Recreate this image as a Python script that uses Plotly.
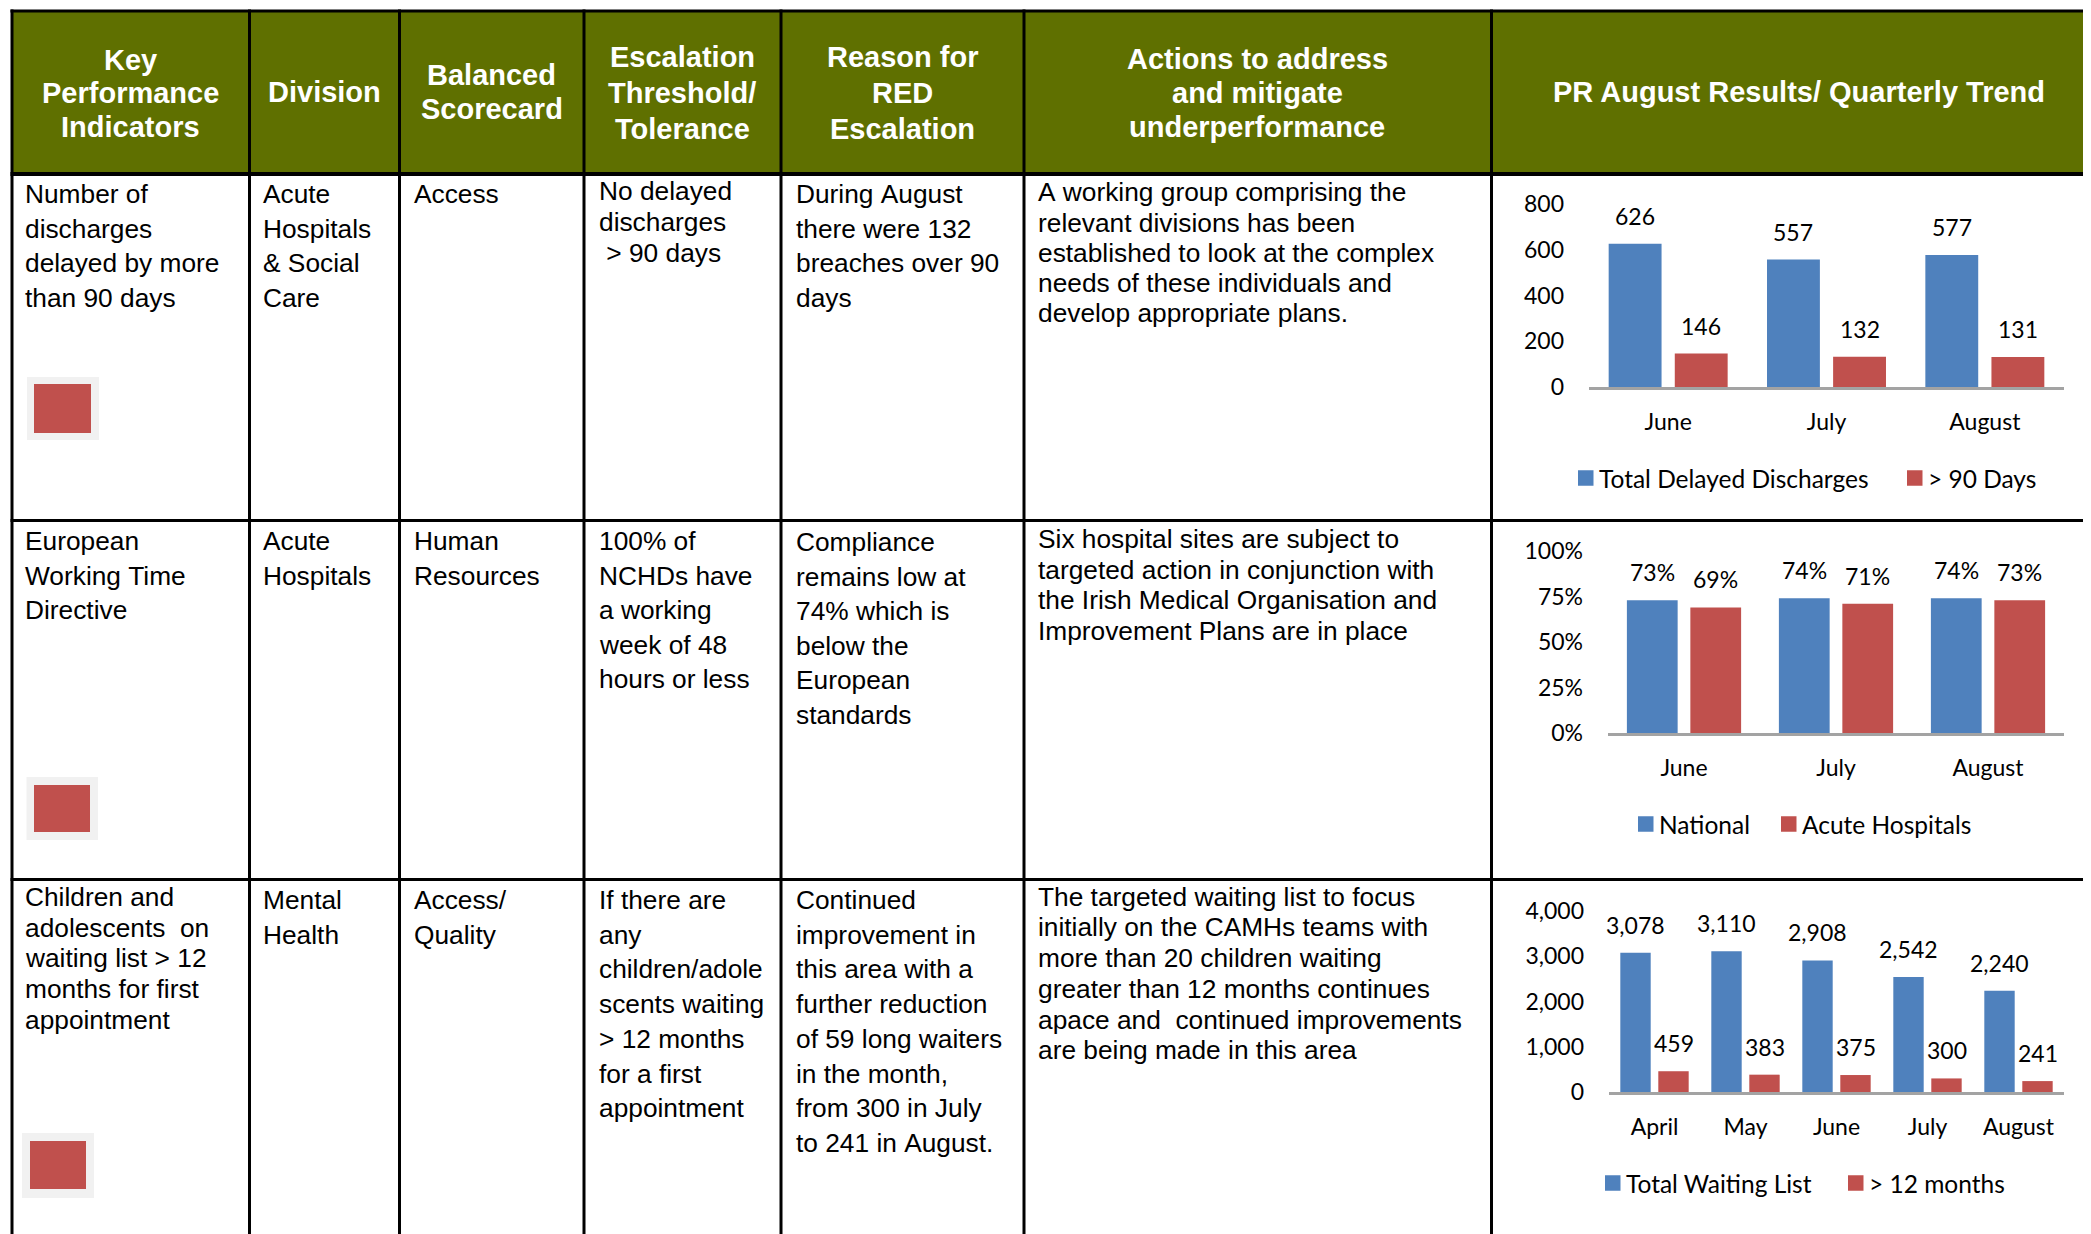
import plotly.graph_objects as go

W, H = 2091, 1234
# the page body adds an 8px margin around the figure; compensate for it
OFF = 8


def px(x):
    return (x - OFF) / W


def py(y):
    return 1 - (y - OFF) / H


# ---------------- data ----------------
months_1 = ["June", "July", "August"]
delayed_total = [626, 557, 577]
delayed_90 = [146, 132, 131]
series_1 = ["Total Delayed Discharges", "> 90 Days"]
ticks_1 = [0, 200, 400, 600, 800]

months_2 = ["June", "July", "August"]
ewtd_national = [0.73, 0.74, 0.74]
ewtd_acute = [0.69, 0.71, 0.73]
series_2 = ["National", "Acute Hospitals"]
ticks_2 = [0, 0.25, 0.5, 0.75, 1.0]

months_3 = ["April", "May", "June", "July", "August"]
camhs_total = [3078, 3110, 2908, 2542, 2240]
camhs_12m = [459, 383, 375, 300, 241]
series_3 = ["Total Waiting List", "> 12 months"]
ticks_3 = [0, 1000, 2000, 3000, 4000]

header_titles = [
    ["Key", "Performance", "Indicators"],
    ["Division"],
    ["Balanced", "Scorecard"],
    ["Escalation", "Threshold/", "Tolerance"],
    ["Reason for", "RED", "Escalation"],
    ["Actions to address", "and mitigate", "underperformance"],
    ["PR August Results/ Quarterly Trend"],
]

row1_cells = [
    ["Number of", "discharges", "delayed by more", "than 90 days"],
    ["Acute", "Hospitals", "& Social", "Care"],
    ["Access"],
    ["No delayed", "discharges", " > 90 days"],
    ["During August", "there were 132", "breaches over 90", "days"],
    ["A working group comprising the", "relevant divisions has been",
     "established to look at the complex", "needs of these individuals and",
     "develop appropriate plans."],
]
row2_cells = [
    ["European", "Working Time", "Directive"],
    ["Acute", "Hospitals"],
    ["Human", "Resources"],
    ["100% of", "NCHDs have", "a working", "week of 48", "hours or less"],
    ["Compliance", "remains low at", "74% which is", "below the", "European", "standards"],
    ["Six hospital sites are subject to", "targeted action in conjunction with",
     "the Irish Medical Organisation and", "Improvement Plans are in place"],
]
row3_cells = [
    ["Children and", "adolescents  on", "waiting list > 12", "months for first", "appointment"],
    ["Mental", "Health"],
    ["Access/", "Quality"],
    ["If there are", "any", "children/adole", "scents waiting", "> 12 months",
     "for a first", "appointment"],
    ["Continued", "improvement in", "this area with a", "further reduction",
     "of 59 long waiters", "in the month,", "from 300 in July", "to 241 in August."],
    ["The targeted waiting list to focus", "initially on the CAMHs teams with",
     "more than 20 children waiting", "greater than 12 months continues",
     "apace and  continued improvements", "are being made in this area"],
]

# ---------------- layout geometry ----------------
COL_X = [12, 249.5, 399.5, 584, 781, 1024, 1491.5]
ROW_Y = [11, 174, 520.5, 879.5]
TEXT_X = [23, 261, 412, 597, 794, 1036]
HEADER_CX = [130, 324, 491.5, 682, 902, 1257, 1799]
HEADER_Y = [(60, 33.5), (92, 0), (75, 34), (57.5, 36), (57.5, 35.5), (59, 34), (92, 0)]
ROW_LAYOUT = [
    [(194, 34.6), (194, 34.6), (194, 34.6), (191, 31), (194, 34.6), (192.4, 30.2)],
    [(541, 34.6), (541, 34.6), (541, 34.6), (541, 34.6), (542, 34.6), (539, 30.5)],
    [(897, 30.7), (900, 35), (900, 35), (900, 34.7), (900, 34.7), (896.7, 30.7)],
]
STATUS = [  # (gray box, red box) as x0, y0, x1, y1
    ((27, 377, 99, 440), (34, 384, 91, 433)),
    ((26.5, 777, 98, 840), (34, 785, 90, 832)),
    ((22, 1133, 94, 1198), (30, 1141, 86, 1189)),
]

GREEN = "#5F7000"
BLUE = "#4F81BD"
RED = "#C0504D"
TABLE_FONT = "Liberation Sans, Arial, sans-serif"
CHART_FONT = "Lato, Carlito, sans-serif"

fig = go.Figure()
shapes = []
annotations = []

# header background
shapes.append(dict(type="rect", xref="paper", yref="paper", x0=px(COL_X[0]), x1=px(W + 20),
                   y0=py(ROW_Y[1]), y1=py(ROW_Y[0]), fillcolor=GREEN, line=dict(width=0), layer="below"))

# header texts
for lines, cx, (y0, sp) in zip(header_titles, HEADER_CX, HEADER_Y):
    for i, t in enumerate(lines):
        annotations.append(dict(xref="paper", yref="paper", x=px(cx), y=py(y0 + i * sp),
                                xanchor="center", yanchor="middle", text="<b>%s</b>" % t,
                                showarrow=False, font=dict(family=TABLE_FONT, size=29, color="white")))

# body texts
for cells, lay in zip([row1_cells, row2_cells, row3_cells], ROW_LAYOUT):
    for lines, tx, (y0, sp) in zip(cells, TEXT_X, lay):
        for i, t in enumerate(lines):
            annotations.append(dict(xref="paper", yref="paper", x=px(tx), y=py(y0 + i * sp),
                                    xanchor="left", yanchor="middle", text=t.replace(" ", "&nbsp;"),
                                    showarrow=False, font=dict(family=TABLE_FONT, size=26.3, color="black")))

# status boxes
for gray, red in STATUS:
    shapes.append(dict(type="rect", xref="paper", yref="paper", x0=px(gray[0]), x1=px(gray[2]),
                       y0=py(gray[3]), y1=py(gray[1]), fillcolor="#F1F1F1", line=dict(width=0)))
    shapes.append(dict(type="rect", xref="paper", yref="paper", x0=px(red[0]), x1=px(red[2]),
                       y0=py(red[3]), y1=py(red[1]), fillcolor=RED, line=dict(width=0)))

# grid lines
for x in COL_X:
    shapes.append(dict(type="line", xref="paper", yref="paper", x0=px(x), x1=px(x),
                       y0=py(ROW_Y[0] - 1.5), y1=py(H + 20), line=dict(color="black", width=3)))
for j, y in enumerate(ROW_Y):
    shapes.append(dict(type="line", xref="paper", yref="paper", x0=px(COL_X[0] - 1.5), x1=px(W + 20),
                       y0=py(y), y1=py(y), line=dict(color="black", width=4 if j == 1 else 3)))

# ---------------- charts ----------------
BARGAP = 0.165
BARGROUPGAP = 0.2

charts = [
    dict(ax="", months=months_1, series=[delayed_total, delayed_90], names=series_1,
         ticks=ticks_1, fmt=",d", label=lambda v: f"{v:,}", x0=1589, x1=2064, ybot=387, ytop=204,
         leg_y=478, leg_x=[1578, 1907]),
    dict(ax="2", months=months_2, series=[ewtd_national, ewtd_acute], names=series_2,
         ticks=ticks_2, fmt=".0%", label=lambda v: f"{v:.0%}", x0=1608, x1=2064, ybot=733, ytop=551,
         leg_y=824, leg_x=[1638, 1781]),
    dict(ax="3", months=months_3, series=[camhs_total, camhs_12m], names=series_3,
         ticks=ticks_3, fmt=",d", label=lambda v: f"{v:,}", x0=1609, x1=2064, ybot=1092, ytop=911,
         leg_y=1183, leg_x=[1605, 1848]),
]

tick_font = dict(family=CHART_FONT, size=23, color="black")
legend_font = dict(family=CHART_FONT, size=24.5, color="black")
SQ = 15.5  # legend key size (px)
layout_axes = {}
for c in charts:
    n = len(c["months"])
    idx = list(range(n))
    xa, ya = "x" + c["ax"], "y" + c["ax"]
    for k, (vals, name, col) in enumerate(zip(c["series"], c["names"], [BLUE, RED])):
        fig.add_trace(go.Bar(x=idx, y=vals, name=name, marker=dict(color=col, line=dict(width=0)),
                             xaxis=xa, yaxis=ya, showlegend=False, hoverinfo="skip"))
        off = (k - 0.5) * (1 - BARGAP) / 2
        for i, v in enumerate(vals):
            annotations.append(dict(xref=xa, yref=ya, x=i + off, y=v, text=c["label"](v),
                                    xanchor="center", yanchor="bottom", yshift=12, showarrow=False,
                                    font=tick_font))
        # legend key + label
        lx, ly = c["leg_x"][k], c["leg_y"]
        shapes.append(dict(type="rect", xref="paper", yref="paper", x0=px(lx), x1=px(lx + SQ),
                           y0=py(ly + SQ / 2), y1=py(ly - SQ / 2), fillcolor=col, line=dict(width=0)))
        annotations.append(dict(xref="paper", yref="paper", x=px(lx + SQ + 3), y=py(ly),
                                xanchor="left", yanchor="middle", text=name.replace(" ", "&nbsp;"),
                                showarrow=False, font=legend_font))
    layout_axes["xaxis" + c["ax"]] = dict(
        domain=[px(c["x0"]), px(c["x1"])], range=[-0.5, n - 0.5], tickvals=idx,
        ticktext=c["months"], showline=True, linecolor="#A3A3A3", linewidth=2.5, ticks="",
        showgrid=False, zeroline=False, anchor=ya, tickfont=tick_font, ticklabelstandoff=13,
        fixedrange=True, automargin=False)
    layout_axes["yaxis" + c["ax"]] = dict(
        domain=[py(c["ybot"]), py(c["ytop"])], range=[0, c["ticks"][-1]], tickvals=c["ticks"],
        tickformat=c["fmt"], showline=False, showgrid=False, zeroline=False, ticks="",
        anchor=xa, tickfont=tick_font, ticklabelstandoff=24, fixedrange=True, automargin=False)

fig.update_layout(
    width=W, height=H, margin=dict(l=0, r=0, t=0, b=0, pad=0, autoexpand=False),
    paper_bgcolor="white", plot_bgcolor="rgba(0,0,0,0)",
    barmode="group", bargap=BARGAP, bargroupgap=BARGROUPGAP,
    shapes=shapes, annotations=annotations, showlegend=False,
    **layout_axes,
)

fig.write_html("out.html")
